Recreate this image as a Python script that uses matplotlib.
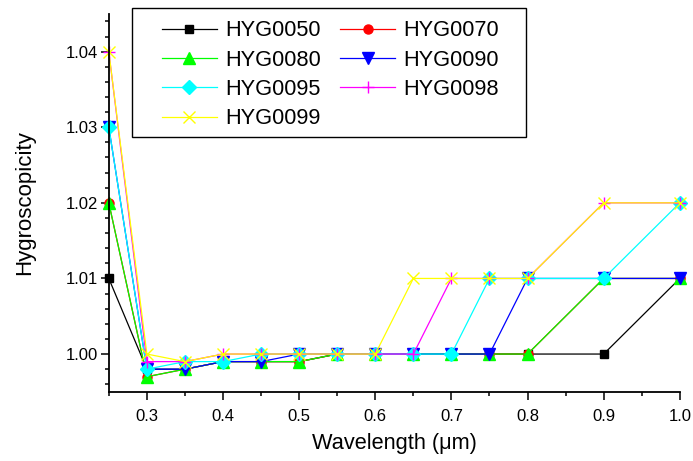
import numpy as np
import matplotlib; matplotlib.use("Agg"); import matplotlib.pyplot as plt
from matplotlib.ticker import MultipleLocator, FixedLocator, FormatStrFormatter
from matplotlib.patches import Rectangle

plt.rcParams.update({"font.family": "Liberation Sans", "font.size": 12})

wavelength = [0.25, 0.3, 0.35, 0.4, 0.45, 0.5, 0.55, 0.6, 0.65, 0.7, 0.75, 0.8, 0.9, 1.0]
labels = ["HYG0050", "HYG0070", "HYG0080", "HYG0090", "HYG0095", "HYG0098", "HYG0099"]
hyg0050 = [1.01, 0.998, 0.998, 0.999, 0.999, 0.999, 1.0, 1.0, 1.0, 1.0, 1.0, 1.0, 1.0, 1.01]
hyg0070 = [1.02, 0.997, 0.998, 0.999, 0.999, 0.999, 1.0, 1.0, 1.0, 1.0, 1.0, 1.0, 1.01, 1.01]
hyg0080 = [1.02, 0.997, 0.998, 0.999, 0.999, 0.999, 1.0, 1.0, 1.0, 1.0, 1.0, 1.0, 1.01, 1.01]
hyg0090 = [1.03, 0.998, 0.998, 0.999, 0.999, 1.0, 1.0, 1.0, 1.0, 1.0, 1.0, 1.01, 1.01, 1.01]
hyg0095 = [1.03, 0.998, 0.999, 0.999, 1.0, 1.0, 1.0, 1.0, 1.0, 1.0, 1.01, 1.01, 1.01, 1.02]
hyg0098 = [1.04, 0.999, 0.999, 1.0, 1.0, 1.0, 1.0, 1.0, 1.0, 1.01, 1.01, 1.01, 1.02, 1.02]
hyg0099 = [1.04, 1.0, 0.999, 1.0, 1.0, 1.0, 1.0, 1.0, 1.01, 1.01, 1.01, 1.01, 1.02, 1.02]
series = [hyg0050, hyg0070, hyg0080, hyg0090, hyg0095, hyg0098, hyg0099]

colors = ["black", "red", "#00ff00", "blue", "cyan", "magenta", "yellow"]
markers = ["s", "o", "^", "v", "D", "+", "x"]
msizes = [5.5, 6.5, 8.5, 8.5, 7, 8, 8]

W, H = 693, 461
fig = plt.figure(figsize=(W / 100, H / 100), dpi=100)
ax = fig.add_axes([0.157, 0.150, 0.824, 0.820])
lines = []
for lab, y, c, m, ms in zip(labels, series, colors, markers, msizes):
    ln, = ax.plot(wavelength, y, color=c, marker=m, ms=ms, lw=0.9, mew=1.0, label=lab, clip_on=False)
    lines.append(ln)

ax.set_xlim(0.25, 1.0); ax.set_ylim(0.995, 1.045)
ax.xaxis.set_major_locator(FixedLocator([0.3, 0.4, 0.5, 0.6, 0.7, 0.8, 0.9, 1.0]))
ax.xaxis.set_minor_locator(MultipleLocator(0.05))
ax.yaxis.set_major_locator(FixedLocator([1.00, 1.01, 1.02, 1.03, 1.04]))
ax.yaxis.set_minor_locator(MultipleLocator(0.002))
ax.yaxis.set_major_formatter(FormatStrFormatter("%.2f"))
ax.tick_params(which="major", direction="out", length=6, width=1.1, labelsize=12)
ax.tick_params(which="minor", direction="out", length=3, width=1.1)
ax.tick_params(axis="x", which="major", pad=6)
ax.tick_params(axis="y", which="major", pad=2)
for s in ("top", "right"): ax.spines[s].set_visible(False)
for s in ("left", "bottom"): ax.spines[s].set_linewidth(1.3)
ax.set_xlabel("Wavelength (\u03bcm)", fontsize=15.7, labelpad=7)
ax.set_ylabel("Hygroscopicity", fontsize=16, labelpad=22)

# legend box drawn separately so its padding matches the original
fig.add_artist(Rectangle((132 / W, 1 - 137 / H), 394 / W, 129 / H, transform=fig.transFigure,
                         facecolor="white", edgecolor="black", lw=1.0, zorder=4))
order = [0, 2, 4, 6, 1, 3, 5]   # row-wise order in two columns
leg = fig.legend([lines[i] for i in order], [labels[i] for i in order],
                 loc="upper left", bbox_to_anchor=(162 / W, 1 - 20.5 / H), ncol=2,
                 fontsize=15.7, handlelength=2.52, columnspacing=0.9, handletextpad=0.37,
                 labelspacing=0.38, borderpad=0, borderaxespad=0, frameon=False)
leg.set_zorder(6)
fig.savefig("out.png", dpi=100)
